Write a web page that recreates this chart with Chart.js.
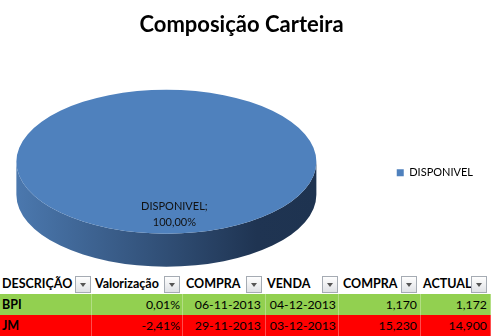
<!DOCTYPE html>
<html>
<head>
<meta charset="utf-8">
<script src="https://cdn.jsdelivr.net/npm/chart.js@4.4.0/dist/chart.umd.min.js"></script>
<style>
    body { margin: 0; width: 491px; height: 336px; overflow: hidden; position: relative; background: #fff; font-family: Lato, sans-serif; }
    #chartBox { position: absolute; left: 0; top: 0; width: 491px; height: 272px; }
    #tbl { position: absolute; left: 0; top: 273px; width: 491px; border-collapse: collapse; table-layout: fixed; color: #000; }
    #tbl th, #tbl td { padding: 0; height: 21px; white-space: nowrap; position: relative; overflow: visible; }
    #tbl th { font-size: 12.5px; font-weight: bold; text-align: left; background: #fff; }
    #tbl td { font-size: 12.3px; text-align: right; box-shadow: inset -1px 0 rgba(255, 255, 255, 0.3); }
    #tbl td span { position: relative; z-index: 1; }
    #tbl td:first-child { font-weight: bold; font-size: 12.5px; text-align: left; padding-left: 2px; }
    tr.up td { background: #92D050; }
    tr.down td { background: #FF0000; }

    /* header text offsets */
    #tbl th:nth-child(1) { padding-left: 2px; }
    #tbl th:nth-child(2) { padding-left: 3px; }
    #tbl th:nth-child(3) { padding-left: 3px; }
    #tbl th:nth-child(4) { padding-left: 1px; }
    #tbl th:nth-child(5) { padding-left: 4px; }
    #tbl th:nth-child(6) { padding-left: 2px; }

    /* filter buttons */
    .btn { position: absolute; top: 3px; width: 14px; height: 15px; border: 1px solid #a5abb3; background: linear-gradient(#fefefe, #e0e2e6); }
    .btn::after { content: ''; position: absolute; left: 3.5px; top: 6px; border-left: 3.5px solid transparent; border-right: 3.5px solid transparent; border-top: 4px solid #555; }
    #tbl th:nth-child(1) .btn { right: 1px; }
    #tbl th:nth-child(2) .btn { right: 3px; }
    #tbl th:nth-child(3) .btn { right: 4px; }
    #tbl th:nth-child(4) .btn { right: 1px; }
    #tbl th:nth-child(5) .btn { right: 4px; }
    #tbl th:nth-child(6) .btn { right: 4px; }

    /* value offsets */
    #tbl td:nth-child(2) { padding-right: 3px; }
    #tbl td:nth-child(3) { padding-right: 5px; }
    #tbl td:nth-child(4) { padding-right: 3px; }
    #tbl td:nth-child(5) { padding-right: 4px; }
    #tbl td:nth-child(6) { padding-right: 4px; }
</style>
</head>
<body>
<div id="chartBox"><canvas id="pieChart" width="491" height="272"></canvas></div>
<table id="tbl">
    <colgroup>
        <col style="width:92px"><col style="width:91px"><col style="width:83px">
        <col style="width:73px"><col style="width:82px"><col style="width:70px">
    </colgroup>
    <thead><tr id="headRow"></tr></thead>
    <tbody id="tblBody"></tbody>
</table>
<script>
// Pie data
const pieLabels = ['DISPONIVEL'];
const pieValues = [100];
const pieColors = ['#4F81BD'];
const sideShades = ['#4b78ae', '#304e75', '#1f3452', '#1e3350'];

// Table data
const tableHeaders = ['DESCRIÇÃO', 'Valorização', 'COMPRA', 'VENDA', 'COMPRA', 'ACTUAL'];
const assetNames = ['BPI', 'JM'];
const valorizacao = [0.01, -2.41];
const dataCompra = ['06-11-2013', '29-11-2013'];
const dataVenda = ['04-12-2013', '03-12-2013'];
const precoCompra = [1.170, 15.230];
const precoActual = [1.172, 14.900];

// Portuguese number format
function fmt(n, d) {
    return n.toFixed(d).replace('.', ',');
}

// Fake 3D: extruded side + squashed top face
const pie3d = {
    id: 'pie3d',
    beforeDatasetsDraw(chart, args, opts) {
        const arc = chart.getDatasetMeta(0).data[0];
        const { x, y } = arc;
        const r = arc.outerRadius;
        const ry = r * opts.tilt;
        const ctx = chart.ctx;

        const grad = ctx.createLinearGradient(x - r, 0, x + r, 0);
        opts.shades.forEach((c, i) => grad.addColorStop(opts.stops[i], c));

        ctx.save();
        ctx.beginPath();
        ctx.moveTo(x + r, y);
        ctx.lineTo(x + r, y + opts.depth);
        ctx.ellipse(x, y + opts.depth, r, ry, 0, 0, Math.PI);
        ctx.lineTo(x - r, y);
        ctx.ellipse(x, y, r, ry, 0, Math.PI, 0, true);
        ctx.closePath();
        ctx.fillStyle = grad;
        ctx.fill();
        ctx.restore();

        ctx.save();
        ctx.translate(0, y);
        ctx.scale(1, opts.tilt);
        ctx.translate(0, -y);
    },
    afterDatasetsDraw(chart, args, opts) {
        const ctx = chart.ctx;
        ctx.restore();

        const meta = chart.getDatasetMeta(0);
        const values = chart.data.datasets[0].data;
        const total = values.reduce((a, b) => a + b, 0);
        ctx.save();
        ctx.font = '11px Lato';
        ctx.fillStyle = '#111';
        ctx.textAlign = 'center';
        ctx.textBaseline = 'middle';
        meta.data.forEach((a, i) => {
            const mid = (a.startAngle + a.endAngle) / 2;
            const lx = a.x + Math.cos(mid) * a.outerRadius * opts.labelPos + opts.labelDx;
            const ly = a.y + Math.sin(mid) * a.outerRadius * opts.labelPos * opts.tilt;
            ctx.fillText(chart.data.labels[i] + ';', lx, ly - 8);
            ctx.fillText(fmt(values[i] / total * 100, 2) + '%', lx, ly + 8);
        });
        ctx.restore();
    }
};

new Chart(document.getElementById('pieChart').getContext('2d'), {
    type: 'pie',
    data: {
        labels: pieLabels,
        datasets: [{
            data: pieValues,
            backgroundColor: pieColors,
            borderWidth: 0,
            radius: 150,
            clip: false
        }]
    },
    options: {
        responsive: false,
        animation: false,
        layout: { padding: { left: 0, right: 8, top: 0, bottom: 0 } },
        plugins: {
            title: {
                display: true,
                text: 'Composição Carteira',
                color: '#000',
                font: { family: 'Lato', size: 22, weight: 'bold' },
                padding: { top: 12, bottom: 13 }
            },
            legend: {
                position: 'right',
                fullSize: false,
                title: { display: true, text: ' ', padding: 5, font: { size: 10 } },
                labels: {
                    boxWidth: 7,
                    boxHeight: 7,
                    padding: 64,
                    color: '#000',
                    font: { family: 'Lato', size: 11 }
                }
            },
            tooltip: { enabled: false },
            pie3d: {
                tilt: 0.48,
                depth: 33,
                shades: sideShades,
                stops: [0, 0.5, 0.8, 1],
                labelPos: 0.73,
                labelDx: 8
            }
        }
    },
    plugins: [pie3d]
});

// Build the table
const headRow = document.getElementById('headRow');
tableHeaders.forEach(h => {
    const th = document.createElement('th');
    th.innerHTML = `<span>${h}</span><div class="btn"></div>`;
    headRow.appendChild(th);
});

const body = document.getElementById('tblBody');
assetNames.forEach((name, i) => {
    const tr = document.createElement('tr');
    tr.className = valorizacao[i] >= 0 ? 'up' : 'down';
    const cells = [
        name,
        fmt(valorizacao[i], 2) + '%',
        dataCompra[i],
        dataVenda[i],
        fmt(precoCompra[i], 3),
        fmt(precoActual[i], 3)
    ];
    cells.forEach(c => {
        const td = document.createElement('td');
        td.innerHTML = `<span>${c}</span>`;
        tr.appendChild(td);
    });
    body.appendChild(tr);
});
</script>
</body>
</html>
